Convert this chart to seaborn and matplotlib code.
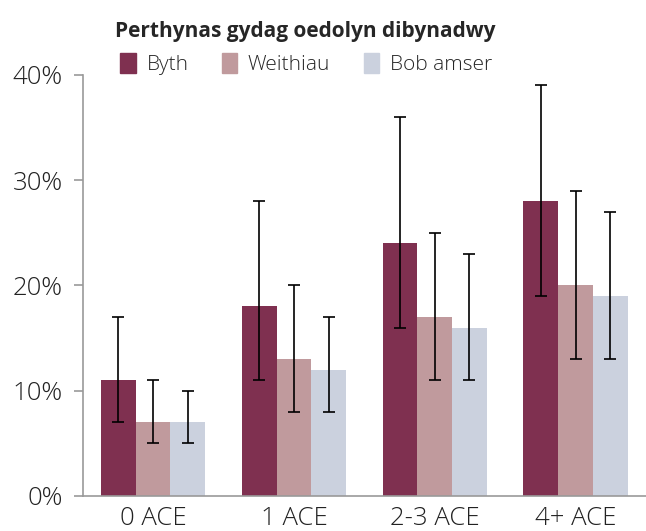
import numpy as np
import pandas as pd
import matplotlib
matplotlib.use('Agg')
import matplotlib.pyplot as plt
import seaborn as sns
from matplotlib.ticker import FuncFormatter

# ── Data ──────────────────────────────────────────────────────────────────────
CATEGORIES = ['0 ACE', '1 ACE', '2-3 ACE', '4+ ACE']
SERIES     = ['Byth', 'Weithiau', 'Bob amser']
VALUES = {
    'Byth':      [11, 18, 24, 28],
    'Weithiau':  [7, 13, 17, 20],
    'Bob amser': [7, 12, 16, 19],
}
LOWER = {
    'Byth':      [7, 11, 16, 19],
    'Weithiau':  [5, 8, 11, 13],
    'Bob amser': [5, 8, 11, 13],
}
UPPER = {
    'Byth':      [17, 28, 36, 39],
    'Weithiau':  [11, 20, 25, 29],
    'Bob amser': [10, 17, 23, 27],
}
COLORS = ['#7f3050', '#c09a9d', '#cbd1de']
TITLE  = 'Perthynas gydag oedolyn dibynadwy'
YTICKS = [0, 10, 20, 30, 40]

# ── Build long frame ─────────────────────────────────────────────────────────
rows = []
for s in SERIES:
    for i, c in enumerate(CATEGORIES):
        rows.append({'cat': c, 'series': s, 'val': VALUES[s][i],
                     'lo': LOWER[s][i], 'hi': UPPER[s][i]})
df = pd.DataFrame(rows)

sns.set_style('white')
plt.rcParams['font.family'] = ['Open Sans', 'DejaVu Sans']

fig = plt.figure(figsize=(6.46, 5.31), dpi=100)
ax = fig.add_axes([0.128, 0.066, 0.872, 0.793])

sns.barplot(data=df, x='cat', y='val', hue='series', order=CATEGORIES,
            hue_order=SERIES, palette=COLORS, width=0.74, errorbar=None,
            saturation=1, linewidth=0, ax=ax, legend=False)

# error bars at bar centres
for s, cont in zip(SERIES, ax.containers):
    sub = df[df.series == s].set_index('cat').loc[CATEGORIES]
    xs = [p.get_x() + p.get_width() / 2 for p in cont.patches]
    ax.errorbar(xs, sub.val, yerr=[sub.val - sub.lo, sub.hi - sub.val],
                fmt='none', ecolor='black', elinewidth=1.2, capsize=4.5,
                capthick=1.2)

ax.set_xlim(-0.5, len(CATEGORIES) - 0.5)
ax.set_ylim(0, 40)
ax.set_yticks(YTICKS)
ax.yaxis.set_major_formatter(FuncFormatter(lambda v, _: f'{v:.0f}%'))
ax.set_xticks(np.arange(len(CATEGORIES) + 1) - 0.5, minor=True)
ax.tick_params(axis='x', which='minor', length=6, color='#999999', width=1.2)
ax.tick_params(axis='x', which='major', length=0, labelsize=18.5, pad=7)
ax.tick_params(axis='y', length=6.5, color='#999999', width=1.2, labelsize=18.5,
               left=True, pad=8)
ax.set_xlabel('')
ax.set_ylabel('')
for side in ['top', 'right']:
    ax.spines[side].set_visible(False)
for side in ['left', 'bottom']:
    ax.spines[side].set_color('#999999')
    ax.spines[side].set_linewidth(1.2)
for lbl in ax.get_xticklabels() + ax.get_yticklabels():
    lbl.set_color('#222222')
    lbl.set_fontweight('light')

fig.text(0.472, 0.94, TITLE, ha='center', va='center', fontsize=15,
         fontweight='bold')
handles = [matplotlib.patches.Patch(color=c) for c in COLORS]
leg = fig.legend(handles, SERIES, loc='center', bbox_to_anchor=(0.474, 0.88),
                 ncol=3, frameon=False, fontsize=15, handlelength=0.75,
                 handleheight=1.1, handletextpad=0.5, columnspacing=1.6)
for t in leg.get_texts():
    t.set_fontweight('light')

plt.savefig('out.png', dpi=100)
